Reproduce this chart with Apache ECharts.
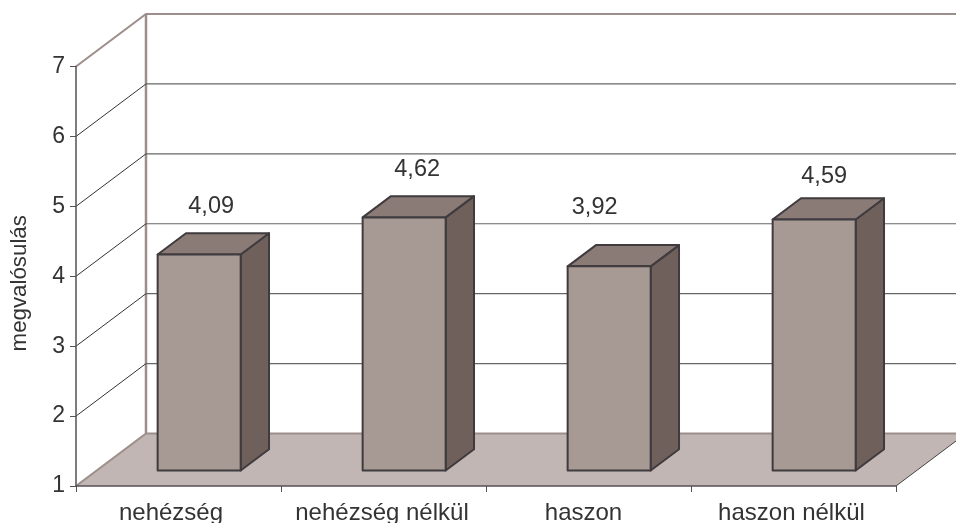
<!DOCTYPE html>
<html>
<head>
<meta charset="utf-8">
<style>html,body{margin:0;padding:0;background:#fff}#c{width:956px;height:523px}</style>
<script src="https://cdn.jsdelivr.net/npm/echarts@6/dist/echarts.min.js"></script>
</head>
<body>
<div id="c"></div>
<script>
const categories = ['nehézség', 'nehézség nélkül', 'haszon', 'haszon nélkül'];
const values = [4.09, 4.62, 3.92, 4.59];
const valueLabels = ['4,09', '4,62', '3,92', '4,59'];
const yTicks = [2, 3, 4, 5, 6];
const yMin = 1, yMax = 7;
const axisTitle = 'megvalósulás';

const DEPTH_X = 70, DEPTH_Y = -52.5;
const BAR_FRONT = 0.295, BAR_BACK = 0.70, BAR_WIDTH = 0.405;
const LABEL_DX = [12, 13, -14.5, 10], LABEL_LIFT = [27, 27, 38, 22], CAT_SHIFT = [-7.5, -1.5, -5, -2];
const FONT = '"Liberation Sans", Arial, sans-serif';
const TXT = '#333333', AXIS = '#555055', WALL = '#9c8e8a';

const chart = echarts.init(document.getElementById('c'), null, {renderer: 'canvas'});

function line(pts, color, w) {
  return {type: 'polyline', shape: {points: pts}, style: {stroke: color, lineWidth: w, fill: null, lineJoin: 'miter'}};
}
function poly(pts, fill, stroke, w) {
  return {type: 'polygon', shape: {points: pts}, style: {fill: fill, stroke: stroke || null, lineWidth: w || 0, lineJoin: 'round'}};
}

function renderFloor(params, api) {
  const L = api.coord([0, yMin]), band = api.size([1, 0])[0];
  const x0 = L[0] - band / 2, x1 = L[0] + band * 3.5, y = L[1];
  const T = api.coord([0, yMax])[1];
  const bx0 = x0 + DEPTH_X, bx1 = x1 + DEPTH_X, by = y + DEPTH_Y, ty = T + DEPTH_Y;
  return {type: 'group', children: [
    poly([[x0, y], [bx0, by], [bx1, by], [x1, y]], '#c1b6b3'),
    line([[x0, y], [bx0, by], [bx1, by]], WALL, 2),
    line([[x1, y], [bx1, by]], '#444444', 1),
    line([[x0, T], [bx0, ty], [bx1, ty]], WALL, 2),
    line([[bx0, ty], [bx0, by]], WALL, 2.5)
  ]};
}
function renderGrid(params, api) {
  const tick = api.value(0);
  const L = api.coord([0, tick]), band = api.size([1, 0])[0];
  const x0 = L[0] - band / 2, x1 = L[0] + band * 3.5, y = L[1];
  return {type: 'group', children: [
    line([[x0, y], [x0 + DEPTH_X, y + DEPTH_Y]], '#333333', 1),
    line([[x0 + DEPTH_X, y + DEPTH_Y], [x1 + DEPTH_X, y + DEPTH_Y]], '#666666', 1.2)
  ]};
}
function renderBar(params, api) {
  const i = api.value(0), v = api.value(1);
  const band = api.size([1, 0])[0];
  const cx = api.coord([i, yMin])[0];
  const y0 = api.coord([i, yMin])[1], yV = api.coord([i, v])[1];
  const w = band * BAR_WIDTH;
  const fx = cx - w / 2 + DEPTH_X * BAR_FRONT, fy = DEPTH_Y * BAR_FRONT;
  const ddx = DEPTH_X * (BAR_BACK - BAR_FRONT), ddy = DEPTH_Y * (BAR_BACK - BAR_FRONT);
  const stroke = '#3f3b3e', sw = 2;
  const bl = fx, br = fx + w, bot = y0 + fy, top = yV + fy;
  const k = params.dataIndex;
  return {type: 'group', children: [
    poly([[br, bot], [br + ddx, bot + ddy], [br + ddx, top + ddy], [br, top]], '#6f605b', stroke, sw),
    poly([[bl, top], [br, top], [br + ddx, top + ddy], [bl + ddx, top + ddy]], '#8a7b76', stroke, sw),
    poly([[bl, bot], [br, bot], [br, top], [bl, top]], '#a79a95', stroke, sw),
    {type: 'text', style: {text: valueLabels[k], x: (bl + br) / 2 + LABEL_DX[k], y: top + ddy - LABEL_LIFT[k],
      fill: TXT, font: '23.5px ' + FONT, align: 'center', verticalAlign: 'middle'}}
  ]};
}

const rich = {};
CAT_SHIFT.forEach((s, i) => {
  rich['c' + i] = {color: TXT, fontFamily: FONT, fontSize: 24,
    padding: s < 0 ? [0, -2 * s, 0, 0] : [0, 0, 0, 2 * s]};
});

chart.setOption({
  animation: false,
  backgroundColor: '#ffffff',
  grid: {left: 76, right: 60, top: 66.5, bottom: 37, containLabel: false, outerBoundsMode: 'none'},
  xAxis: {
    type: 'category', data: categories, z: 10,
    axisLine: {lineStyle: {color: AXIS, width: 1.5}},
    axisTick: {show: true, length: 6, alignWithLabel: false, lineStyle: {color: AXIS}},
    axisLabel: {color: TXT, fontFamily: FONT, fontSize: 24, margin: 15, interval: 0, rich: rich,
      formatter: (v, i) => '{c' + i + '|' + v + '}'},
    splitLine: {show: false}
  },
  yAxis: {
    type: 'value', min: yMin, max: yMax, interval: 1, z: 10,
    name: axisTitle, nameLocation: 'middle', nameGap: 45,
    nameTextStyle: {color: TXT, fontFamily: FONT, fontSize: 22.3, padding: [0, 14, 0, 0]},
    axisLine: {show: true, lineStyle: {color: AXIS, width: 1.5}},
    axisTick: {show: true, length: 6, lineStyle: {color: AXIS}},
    axisLabel: {color: TXT, fontFamily: FONT, fontSize: 23, margin: 11},
    splitLine: {show: false}
  },
  series: [
    {type: 'custom', data: [[0]], renderItem: renderFloor, silent: true, z: 1, encode: {x: 0}},
    {type: 'custom', data: yTicks.map(t => [t]), renderItem: renderGrid, silent: true, z: 2, encode: {y: 0}},
    {type: 'custom', data: values.map((v, i) => [i, v]), renderItem: renderBar, silent: true, z: 3, encode: {x: 0, y: 1}}
  ]
});
</script>
</body>
</html>
